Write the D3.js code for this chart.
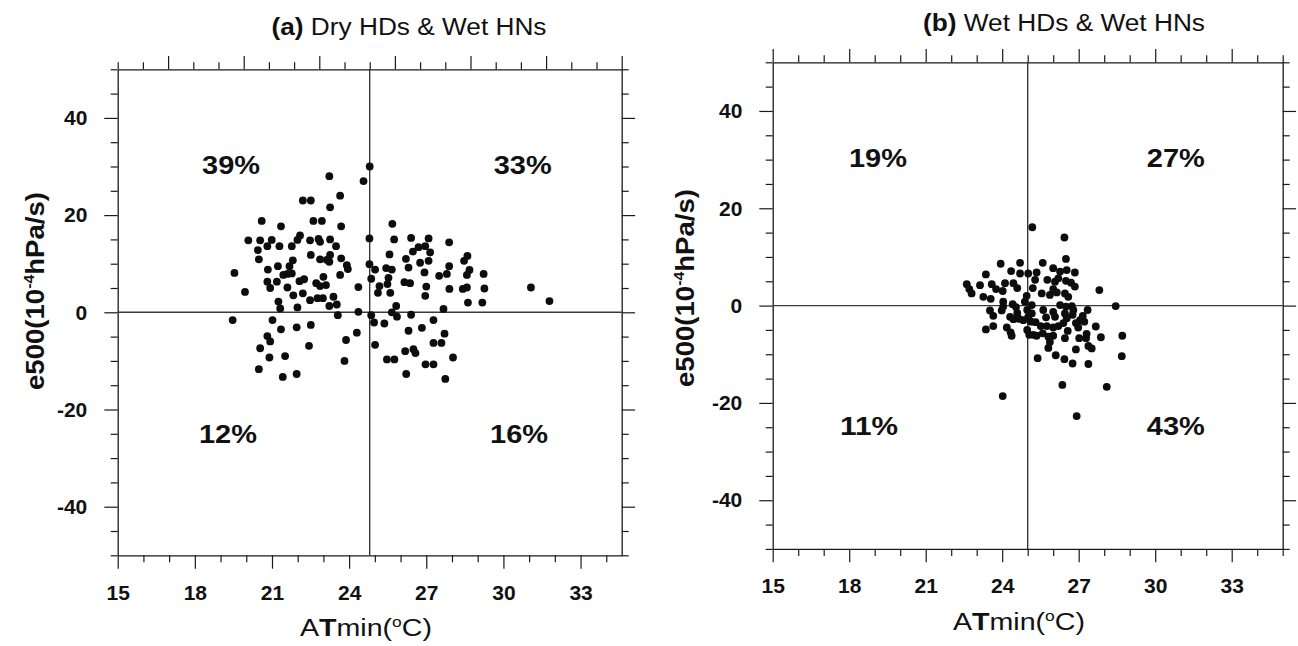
<!DOCTYPE html>
<html><head><meta charset="utf-8">
<script src="https://cdn.jsdelivr.net/npm/d3@7"></script>
<style>body{margin:0;background:#fff}svg{display:block}</style>
</head><body>
<svg id="c" width="1298" height="646"></svg>
<script>
// ---------------- DATA ----------------
// Panel (a): Dry HDs & Wet HNs  [ATmin (°C), e500 (10^-4 hPa/s)]
const dryPoints = [
[24.8,30.0],[24.56,27.0],[23.23,28.0],[23.65,24.0],[22.2,23.0],[22.51,23.0],[23.26,21.6],[20.6,18.8],[22.61,18.8],[22.94,18.8],
[21.35,17.7],[23.69,17.7],[20.08,14.8],[20.54,14.8],[20.99,14.9],[22.09,15.8],[21.99,14.9],[22.48,14.8],[22.81,15.1],[22.87,14.5],
[23.26,15.0],[20.82,13.6],[21.29,13.6],[21.77,13.6],[23.49,13.6],[20.45,12.8],[24.79,15.2],[20.49,10.9],[22.51,11.8],[22.87,10.9],
[23.13,10.8],[23.26,11.8],[23.23,10.4],[23.69,11.1],[21.81,10.7],[21.68,9.5],[21.23,9.5],[20.84,8.8],[23.91,9.7],[23.95,8.9],
[24.79,9.9],[25.01,8.8],[19.54,8.1],[21.44,7.7],[21.6,7.9],[21.77,8.0],[23.65,7.7],[20.82,6.3],[21.19,6.3],[20.93,5.0],
[22.07,6.4],[22.25,6.8],[23.0,7.3],[22.72,6.0],[22.87,5.4],[23.1,5.6],[24.86,6.9],[21.6,5.1],[19.95,4.2],[24.36,5.2],
[21.83,3.5],[22.2,3.9],[22.48,2.5],[22.77,2.9],[22.98,2.9],[21.25,2.2],[21.32,0.8],[21.99,1.0],[23.39,3.2],[23.52,1.6],
[23.23,1.3],[24.36,0.1],[23.56,-0.6],[19.47,-1.6],[21.02,-1.6],[24.86,-0.6],[24.97,-2.1],[22.51,-2.6],[21.35,-3.5],[21.96,-3.1],
[24.3,-4.2],[20.82,-4.9],[20.93,-6.0],[23.88,-5.7],[20.54,-7.4],[22.44,-6.9],[25.01,-6.7],[20.9,-9.3],[21.51,-9.0],[23.82,-10.0],
[20.49,-11.7],[21.42,-13.3],[21.96,-12.7],
[25.68,18.2],[25.75,15.0],[26.41,15.3],[27.09,15.2],[27.89,14.4],[26.7,13.4],[26.96,13.6],[26.48,12.5],[27.15,12.3],[25.57,11.9],
[26.21,11.0],[26.76,10.2],[27.09,10.6],[28.6,11.6],[28.47,10.6],[25.44,9.1],[25.66,8.8],[26.31,9.2],[26.93,8.2],[27.89,9.5],
[28.68,8.7],[28.58,7.7],[27.5,7.5],[27.8,7.9],[29.23,7.9],[25.53,7.1],[26.15,6.2],[26.37,6.0],[27.0,5.3],[27.9,4.8],
[28.42,4.8],[28.58,5.1],[29.26,4.9],[31.07,5.1],[25.49,5.8],[25.6,4.0],[26.96,3.4],[31.79,2.3],[28.62,2.0],[29.18,2.0],
[27.67,0.7],[25.83,1.3],[25.66,0.0],[25.86,-0.9],[26.41,-0.5],[27.28,-1.6],[25.37,-2.3],[26.83,-3.2],[26.31,-3.8],[27.71,-4.4],
[27.28,-6.3],[27.59,-6.3],[26.18,-8.0],[26.5,-7.6],[26.58,-8.4],[25.47,-9.7],[25.76,-9.7],[28.04,-9.3],[26.97,-10.7],[27.28,-10.7],
[26.22,-12.7],[27.74,-13.7],[25.18,5.4],[25.12,4.0]
];
// Panel (b): Wet HDs & Wet HNs
const wetPoints = [
[25.18,16.1],[26.44,14.0],[26.5,9.6],[23.94,8.6],[24.7,8.8],[25.59,8.8],[24.35,7.1],[23.36,6.4],[24.7,6.6],[25.02,6.6],
[25.35,6.8],[26.0,7.7],[26.27,7.0],[26.53,7.3],[26.85,6.8],[25.29,5.3],[25.77,5.3],[26.07,4.9],[26.2,5.6],[26.5,5.1],
[26.7,4.7],[26.85,3.9],[22.61,4.4],[22.71,3.4],[22.8,2.5],[23.13,4.2],[23.59,4.4],[23.76,3.4],[24.11,4.6],[24.02,3.0],
[24.44,4.6],[24.59,3.6],[25.2,3.6],[26.0,3.4],[26.14,2.7],[25.87,2.2],[26.46,2.5],[26.59,1.8],[27.81,3.2],[23.26,1.8],
[23.55,1.4],[24.96,2.0],[24.89,0.8],[25.55,2.5],[24.04,0.8],[24.04,-0.2],[24.41,0.3],[25.16,0.1],[26.27,0.1],[26.5,-0.2],
[26.73,-0.1],[26.79,-0.9],[28.45,-0.1],[23.52,-1.0],[23.65,-2.1],[23.98,-1.0],[24.54,-0.3],[24.59,-1.5],[24.98,-0.9],[25.02,-2.3],
[25.61,-0.9],[25.72,-2.4],[26.0,-1.3],[26.07,-2.3],[26.46,-1.6],[26.53,-2.6],[26.76,-1.9],[27.35,-0.9],[24.31,-2.3],[24.44,-2.8],
[24.65,-2.7],[24.83,-3.0],[27.16,-2.1],[27.05,-3.0],[27.22,-3.3],[25.31,-3.4],[25.51,-4.2],[25.75,-4.2],[26.0,-4.5],[26.2,-4.2],
[26.4,-3.6],[26.89,-3.6],[26.98,-4.5],[27.67,-4.3],[23.36,-4.9],[23.65,-4.2],[24.18,-4.5],[24.33,-5.5],[24.37,-6.2],[24.98,-5.0],
[25.06,-6.0],[25.22,-6.0],[25.35,-6.2],[25.59,-5.7],[25.81,-6.4],[26.0,-6.2],[26.57,-5.2],[27.31,-5.8],[27.02,-6.7],[27.29,-6.7],
[28.71,-6.2],[27.87,-6.5],[25.87,-7.5],[25.81,-8.7],[26.46,-6.7],[27.38,-8.3],[27.51,-8.8],[26.89,-9.0],[25.39,-10.8],[26.1,-10.2],
[26.44,-11.0],[26.76,-11.9],[27.38,-12.0],[28.69,-10.4],[26.36,-16.3],[28.1,-16.7],[24.02,-18.6],[26.92,-22.7],[25.16,-1.6],[25.13,-3.3]
];
// Dividing lines (means) and quadrant percentages
const dryMeanAT = 24.8, wetMeanAT = 25.0;
const dryPct = ["39%","33%","12%","16%"];   // UL, UR, LL, LR
const wetPct = ["19%","27%","11%","43%"];
const dryPctPos = [[19.41,28.5],[30.75,28.5],[19.29,-26.8],[30.61,-26.8]];
const wetPctPos = [[19.13,28.4],[30.81,28.4],[18.78,-26.5],[30.81,-26.5]];
// Ticks
const xMajor = [15,18,21,24,27,30,33];
const xMinorA = d3.range(15,35).filter(v=>!xMajor.includes(v));
const xTopMajorA = [17,20,23,26,29,32,35];
const xTopMinorA = d3.range(15,36).filter(v=>!xTopMajorA.includes(v));
const xMinorB = d3.range(15,36).filter(v=>!xMajor.includes(v));
const yMajor = [-40,-20,0,20,40];
const yMinor = d3.range(-50,55,5).filter(v=>!yMajor.includes(v));
const titleA = ["(a)"," Dry HDs & Wet HNs"];
const titleB = ["(b)"," Wet HDs & Wet HNs"];

// ---------------- DRAW ----------------
const svg = d3.select("#c");
const FONT = "'Liberation Sans', Arial, Helvetica, sans-serif";
svg.append("rect").attr("width",1298).attr("height",646).attr("fill","#fff");
const fmt = d => String(d);

function panel(cfg){
  const {x, xTop, y, pts, mean, pct, pctPos, title, xMinor, xTopMajor, xTopMinor, yTitleX, yTitleY, xTitleX, xTitleY, titleX, titleY, titleLen, tickPadY} = cfg;
  const [x0,x1] = x.range(), [y1,y0] = y.range();
  const g = svg.append("g");
  const axisStyle = sel => {
    sel.selectAll(".domain").attr("stroke","#1a1a1a").attr("stroke-width",1.3);
    sel.selectAll(".tick line").attr("stroke","#1a1a1a").attr("stroke-width",1.2);
    sel.selectAll("text").attr("font-family",FONT).attr("font-weight","bold").attr("font-size",21).attr("fill","#111");
  };
  const minorStyle = sel => {
    sel.select(".domain").remove();
    sel.selectAll(".tick line").attr("stroke","#1a1a1a").attr("stroke-width",1.2);
  };
  // bottom
  g.append("g").attr("transform",`translate(0,${y1})`)
    .call(d3.axisBottom(x).tickValues(xMajor).tickSize(13.4).tickSizeOuter(0).tickPadding(tickPadY).tickFormat(fmt)).call(axisStyle);
  g.append("g").attr("transform",`translate(0,${y1})`)
    .call(d3.axisBottom(x).tickValues(xMinor).tickSize(7).tickFormat("")).call(minorStyle);
  // top
  g.append("g").attr("transform",`translate(0,${y0})`)
    .call(d3.axisTop(xTop).tickValues(xTopMajor).tickSize(13.4).tickSizeOuter(0).tickFormat("")).call(axisStyle);
  g.append("g").attr("transform",`translate(0,${y0})`)
    .call(d3.axisTop(xTop).tickValues(xTopMinor).tickSize(7).tickFormat("")).call(minorStyle);
  // left
  g.append("g").attr("transform",`translate(${x0},0)`)
    .call(d3.axisLeft(y).tickValues(yMajor).tickSize(13.4).tickSizeOuter(0).tickPadding(17).tickFormat(fmt)).call(axisStyle);
  g.append("g").attr("transform",`translate(${x0},0)`)
    .call(d3.axisLeft(y).tickValues(yMinor).tickSize(7).tickFormat("")).call(minorStyle);
  // right
  g.append("g").attr("transform",`translate(${x1},0)`)
    .call(d3.axisRight(y).tickValues(yMajor).tickSize(13.4).tickSizeOuter(0).tickFormat("")).call(axisStyle);
  g.append("g").attr("transform",`translate(${x1},0)`)
    .call(d3.axisRight(y).tickValues(yMinor).tickSize(7).tickFormat("")).call(minorStyle);
  // reference lines
  g.append("line").attr("x1",x(mean)).attr("x2",x(mean)).attr("y1",y0).attr("y2",y1)
    .attr("stroke","#2a2a2a").attr("stroke-width",1.3);
  g.append("line").attr("x1",x0).attr("x2",x1).attr("y1",y(0)).attr("y2",y(0))
    .attr("stroke","#3a3a3a").attr("stroke-width",1.4);
  // points
  g.append("g").selectAll("circle").data(pts).join("circle")
    .attr("cx",d=>x(d[0])).attr("cy",d=>y(d[1])).attr("r",3.9).attr("fill","#0d0d0d");
  // quadrant percentages
  g.append("g").selectAll("text").data(pct).join("text")
    .attr("x",(d,i)=>x(pctPos[i][0])).attr("y",(d,i)=>y(pctPos[i][1]))
    .attr("text-anchor","middle").attr("font-family",FONT).attr("font-weight","bold")
    .attr("font-size",26).attr("textLength",58).attr("lengthAdjust","spacingAndGlyphs").attr("fill","#111").text(d=>d);
  // title
  const t = g.append("text").attr("x",titleX).attr("y",titleY).attr("text-anchor","middle")
    .attr("font-family",FONT).attr("font-size",23).attr("fill","#111")
    .attr("textLength",titleLen).attr("lengthAdjust","spacingAndGlyphs");
  t.append("tspan").attr("font-weight","bold").text(title[0]);
  t.append("tspan").text(title[1]);
  // x axis title
  const xt = g.append("text").attr("x",xTitleX).attr("y",xTitleY).attr("text-anchor","middle")
    .attr("font-family",FONT).attr("font-size",23).attr("fill","#111")
    .attr("textLength",132).attr("lengthAdjust","spacingAndGlyphs");
  xt.append("tspan").text("A");
  xt.append("tspan").attr("font-weight","bold").text("T");
  xt.append("tspan").text("min(");
  xt.append("tspan").attr("font-size",14).attr("dy",-9).text("o");
  xt.append("tspan").attr("dy",9).text("C)");
  // y axis title
  const yt = g.append("text").attr("transform",`translate(${yTitleX},${yTitleY}) rotate(-90)`)
    .attr("text-anchor","middle").attr("font-family",FONT).attr("font-weight","bold")
    .attr("font-size",26).attr("fill","#111").attr("textLength",198).attr("lengthAdjust","spacingAndGlyphs");
  yt.append("tspan").text("e500(10");
  yt.append("tspan").attr("font-size",15).attr("dy",-10).text("-4");
  yt.append("tspan").attr("dy",10).text("hPa/s)");
}

const xA = d3.scaleLinear().domain([15,34.6]).range([117.7,621.7]);
const xAtop = d3.scaleLinear().domain([15,35]).range([117.7,621.7]);
const yA = d3.scaleLinear().domain([-50,50]).range([555.3,69.3]);
const xB = d3.scaleLinear().domain([15,35]).range([772.7,1282.7]);
const yB = d3.scaleLinear().domain([-50,50]).range([548.9,62.3]);

panel({x:xA, xTop:xAtop, y:yA, pts:dryPoints, mean:dryMeanAT, pct:dryPct, pctPos:dryPctPos, title:titleA,
  xMinor:xMinorA, xTopMajor:xTopMajorA, xTopMinor:xTopMinorA,
  yTitleX:44, yTitleY:291, xTitleX:366, xTitleY:636, titleX:409, titleY:34.5, titleLen:275, tickPadY:16.7});
panel({x:xB, xTop:xB, y:yB, pts:wetPoints, mean:wetMeanAT, pct:wetPct, pctPos:wetPctPos, title:titleB,
  xMinor:xMinorB, xTopMajor:xMajor, xTopMinor:xMinorB,
  yTitleX:694, yTitleY:288, xTitleX:1019, xTitleY:630, titleX:1064, titleY:31, titleLen:282, tickPadY:15.7});
</script>
</body></html>
